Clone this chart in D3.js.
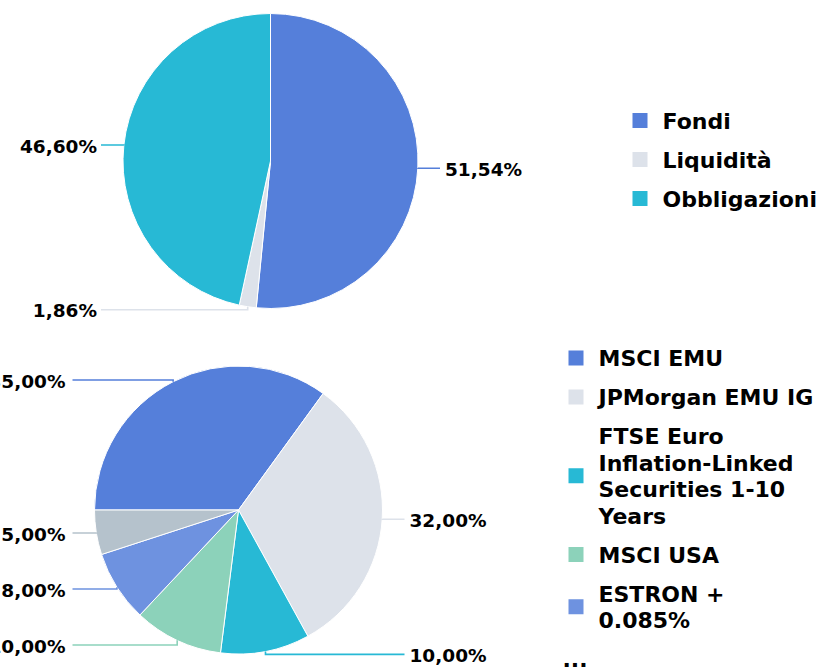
<!DOCTYPE html>
<html>
<head>
<meta charset="utf-8">
<script src="https://cdn.jsdelivr.net/npm/d3@7"></script>
<style>
  body { margin: 0; background: #fff; }
  svg { display: block; font-family: "DejaVu Sans", Verdana, sans-serif; font-weight: bold; }
</style>
</head>
<body>
<div class="data"></div>
<script>
// top chart: asset classes
const topCategories = ["Fondi", "Liquidità", "Obbligazioni"];
const topValues = [51.54, 1.86, 46.60];
const topColors = ["#557fda", "#dde2ea", "#27b9d5"];

// bottom chart: benchmark components (last one hidden behind the "..." in the legend)
const bottomCategories = ["MSCI EMU", "JPMorgan EMU IG", "FTSE Euro Inflation-Linked Securities 1-10 Years", "MSCI USA", "ESTRON + 0.085%", "Altro"];
const bottomValues = [35, 32, 10, 10, 8, 5];
const bottomColors = ["#557fda", "#dde2ea", "#27b9d5", "#8cd2ba", "#6e92e0", "#b5c2cc"];
const bottomLegendShown = 5;

const width = 820;
const height = 667;

const it = d3.formatLocale({ decimal: ",", thousands: ".", grouping: [3], currency: ["", "€"] });
const fmt = v => it.format(".2f")(v) + "%";

const svg = d3.select(".data")
  .append("svg")
  .attr("width", width)
  .attr("height", height);

const renderPie = (opts) => {
  const { cats, vals, colors, cx, cy, r, start, legendX, legendY, shown, gapL } = opts;

  const pie = d3.pie().sort(null).startAngle(start).endAngle(start + 2 * Math.PI);
  const arcs = pie(vals);
  const arc = d3.arc().innerRadius(0).outerRadius(r);

  const g = svg.append("g");

  g.append("g")
    .attr("transform", `translate(${cx},${cy})`)
    .selectAll("path")
    .data(arcs)
    .join("path")
    .attr("d", arc)
    .attr("fill", (d, i) => colors[i])
    .attr("stroke", "#fff")
    .attr("stroke-width", 1);

  // label placement, left and right side separately
  const labels = arcs.map((d, i) => {
    const a = (d.startAngle + d.endAngle) / 2;
    const ex = cx + r * Math.sin(a);
    const ey = cy - r * Math.cos(a);
    let y = cy - (r + 3) * Math.cos(a);
    y = Math.max(cy - r + 14, Math.min(cy + r + 3, y));
    return { i, a, ex, ey, y, right: Math.sin(a) >= 0 };
  });
  [true, false].forEach(side => {
    const s = labels.filter(l => l.right === side).sort((p, q) => p.y - q.y);
    for (let k = 1; k < s.length; k++) {
      if (s[k].y - s[k - 1].y < 56) s[k].y = s[k - 1].y + 56;
    }
  });

  labels.forEach(l => {
    const lx = l.right ? cx + r + 22 : cx - r - 22;
    g.append("path")
      .attr("d", d3.line()([[lx, l.y], [l.ex, l.y], [l.ex, l.ey]]))
      .attr("fill", "none")
      .attr("stroke", colors[l.i])
      .attr("stroke-width", 1.6);
    g.append("text")
      .attr("x", l.right ? lx + 5 : lx - gapL)
      .attr("y", l.y + 1)
      .attr("dy", "0.36em")
      .attr("text-anchor", l.right ? "start" : "end")
      .attr("font-size", 18.5)
      .attr("fill", "#000")
      .text(fmt(vals[l.i]));
  });

  // legend with wrapped names
  const lg = g.append("g");
  const lineH = 26.5;
  const maxW = 220;
  let base = legendY;
  cats.slice(0, shown).forEach((name, i) => {
    const t = lg.append("text")
      .attr("x", legendX + 30)
      .attr("font-size", 22)
      .attr("fill", "#000");
    const words = name.split(" ");
    let line = [];
    let lines = [];
    words.forEach(w => {
      const test = line.concat([w]).join(" ");
      t.text(test);
      if (line.length && t.node().getComputedTextLength() > maxW) {
        lines.push(line.join(" "));
        line = [w];
      } else {
        line.push(w);
      }
    });
    lines.push(line.join(" "));
    t.text(null);
    lines.forEach((ln, k) => {
      t.append("tspan")
        .attr("x", legendX + 30)
        .attr("y", base + k * lineH)
        .text(ln);
    });
    const last = base + (lines.length - 1) * lineH;
    const mid = (base - 16 + last) / 2;
    lg.append("rect")
      .attr("x", legendX)
      .attr("y", mid - 7.5)
      .attr("width", 15)
      .attr("height", 15)
      .attr("fill", colors[i]);
    base = last + 39;
  });
  if (shown < cats.length) {
    lg.append("text")
      .attr("x", legendX - 6)
      .attr("y", base)
      .attr("font-size", 22)
      .attr("fill", "#000")
      .text("...");
  }
};

renderPie({
  cats: topCategories, vals: topValues, colors: topColors,
  cx: 270.5, cy: 161, r: 147.5, start: 0,
  legendX: 632.5, legendY: 128.5, shown: topCategories.length, gapL: 4
});

renderPie({
  cats: bottomCategories, vals: bottomValues, colors: bottomColors,
  cx: 238.5, cy: 510, r: 144, start: -Math.PI / 2,
  legendX: 568.5, legendY: 366, shown: bottomLegendShown, gapL: 7
});
</script>
</body>
</html>
